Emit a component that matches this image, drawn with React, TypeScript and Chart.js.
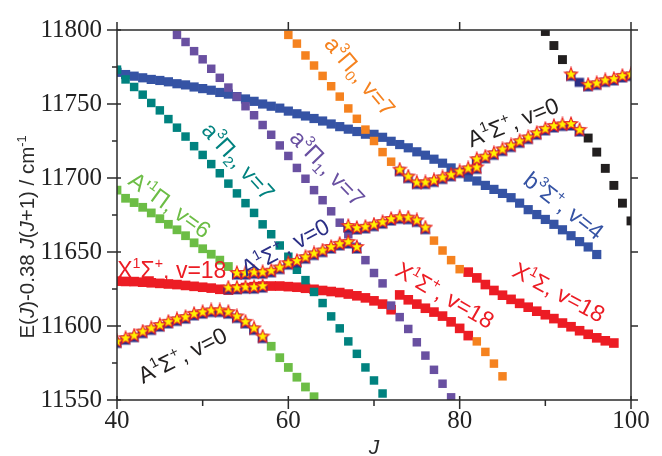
import { useEffect, useRef } from "react";
import { Chart, registerables } from "chart.js";
Chart.register(...registerables);

// ---------------- data (J, E) ----------------
const starJ = [
  40, 41, 42, 43, 44, 45, 46, 47, 48, 49, 50, 51, 52, 53, 54, 55, 56, 57,
  53, 54, 55, 56, 57,
  54, 55, 56, 57, 58, 59, 60, 61, 62, 63, 64, 65, 66, 67, 68,
  67, 68, 69, 70, 71, 72, 73, 74, 75, 76,
  73, 74, 75, 76, 77, 78, 79, 80, 81, 82, 82, 83, 84, 85, 86, 87, 88, 89, 90, 91, 92, 93, 94,
  93, 95, 96, 97, 98, 99, 100,
];
const starE = [
  11589.6, 11591.8, 11593.5, 11596.2, 11598.4, 11600.6, 11602.8, 11604.5, 11606, 11608.2, 11609.4, 11610.5, 11610.5, 11609.4, 11606.5, 11602.8, 11598.4, 11592.9,
  11625.9, 11625.9, 11626.3, 11626.3, 11627,
  11635.8, 11635.8, 11636.4, 11636.4, 11637.3, 11639.5, 11642.5, 11644, 11646.5, 11649, 11651, 11653.4, 11655.5, 11656.8, 11653.4,
  11667.6, 11666.3, 11667, 11668.5, 11670.2, 11672.3, 11673.5, 11673.2, 11671.4, 11666.5,
  11705.7, 11701, 11697, 11697, 11698.4, 11700.4, 11702.2, 11704.4, 11706.5, 11707.2, 11712.7, 11714.4, 11716.7, 11719.3, 11722, 11724.8, 11727.4, 11730.3, 11733.2, 11735.2, 11736.2, 11736.5, 11732.5,
  11770, 11763, 11764, 11766, 11767, 11769, 11770,
];
const navyExtraJ = [94];
const navyExtraE = [11766];

const blackJ = [90, 91, 92, 95, 96, 97, 98, 99, 100];
const blackE = [11799, 11789.5, 11780, 11727, 11717.5, 11706.5, 11695, 11683, 11671];

const orangeJ = [60, 61, 62, 63, 64, 65, 66, 67, 68, 69, 70, 71, 72, 77, 78, 79, 80, 82, 83, 84, 85];
const orangeE = [
  11796.7, 11790.8, 11782.8, 11776, 11769, 11762, 11755, 11747, 11740, 11732.7, 11725, 11717.5, 11711,
  11657.7, 11651, 11644.5, 11638.4,
  11589.6, 11582.5, 11574.6, 11566,
];

const purpleJ = [47, 48, 49, 50, 51, 52, 53, 54, 55, 56, 57, 58, 59, 60, 61, 62, 63, 64, 65, 66, 67, 68, 69, 70, 71, 72, 73, 74, 75, 76, 77, 78, 79];
const purpleE = [
  11796.7, 11791.9, 11785.7, 11780.2, 11773.8, 11767.7, 11761.1, 11755, 11748.5, 11742.4, 11735.8, 11729.2, 11722, 11714.9, 11706.8, 11699.5, 11691.8,
  11685, 11677.5, 11669.8, 11662, 11653.5, 11644.5, 11635.8, 11628.8, 11613.8, 11606, 11598, 11589, 11580, 11570.4, 11561, 11551.8,
];

const tealJ = [40, 41, 42, 43, 44, 45, 46, 47, 48, 49, 50, 51, 52, 53, 54, 55, 56, 57, 58, 59, 60, 61, 62, 63, 64, 65, 66, 67, 68, 69, 70, 71];
const tealE = [
  11773.2, 11766.6, 11761.5, 11756.3, 11750.7, 11745.7, 11739.8, 11734, 11728, 11721.5, 11715.6, 11709.4, 11703.2, 11696.2, 11689.6, 11683,
  11676.4, 11668.7, 11662, 11654.4, 11646.8, 11638, 11631, 11623, 11615.5, 11606.5, 11598.4, 11589.6, 11581.2, 11572, 11563.2, 11554.4,
];

const greenJ = [40, 41, 42, 43, 44, 45, 46, 47, 48, 49, 50, 51, 52, 53, 58, 59, 60, 61, 62, 63];
const greenE = [
  11691.8, 11686.3, 11683.4, 11680.2, 11676.4, 11672.5, 11668.7, 11665, 11661, 11656.2, 11652.2, 11648.5, 11644.5, 11640.2,
  11586.3, 11578.6, 11572, 11565.4, 11558.8, 11552.2,
];

const blueJ = [
  40, 41, 42, 43, 44, 45, 46, 47, 48, 49, 50, 51, 52, 53, 54, 55, 56, 57, 58, 59, 60, 61, 62, 63, 64, 65, 66, 67, 68,
  69, 70, 71, 72, 73, 74, 75, 76, 77, 78, 79, 80, 81, 82, 83, 84, 85, 86, 87, 88, 89, 90, 91, 92, 93, 94, 95, 96,
];
const blueE = [
  11771.4, 11769.9, 11768.8, 11767.7, 11766.6, 11765.9, 11765, 11763.7, 11762.9, 11761.5, 11760.4, 11759.3, 11757.8, 11756.7, 11755,
  11753.4, 11751.8, 11750, 11748.5, 11747.2, 11745.2, 11743.4, 11741.9, 11740.2, 11738.5, 11736.5, 11734.7, 11733, 11731.4,
  11729.6, 11729.5, 11727.5, 11724.8, 11722.6, 11720.4, 11717.7, 11715.4, 11712.7, 11710, 11706.8, 11703.9, 11700.6, 11698, 11695,
  11692.3, 11689.6, 11686.7, 11683, 11678.6, 11675.3, 11672, 11668.7, 11665, 11661, 11657, 11653.4, 11648.3,
];

const redJ = [
  40, 41, 42, 43, 44, 45, 46, 47, 48, 49, 50, 51, 52, 53, 54, 55, 56, 57, 58, 59, 60, 61, 62, 63, 64, 65, 66, 67, 68, 69, 70, 71, 72,
  73, 74, 75, 76, 77, 78, 79, 80, 81,
  81, 82, 83, 84, 85, 86, 87, 88, 89, 90, 91, 92, 93, 94, 95, 96, 97, 98,
];
const redE = [
  11630.3, 11630.1, 11630, 11629.6, 11629.2, 11628.8, 11628.4, 11628, 11627.4, 11626.8, 11626.2, 11625.6, 11624.8, 11624.3, 11625, 11626,
  11626.6, 11627, 11627, 11627, 11626.6, 11626.2, 11625.5, 11624.8, 11624, 11623.3, 11622.6, 11621.6, 11620.4, 11619, 11617, 11614.8, 11611,
  11621, 11617.7, 11614.8, 11612, 11609.4, 11606.7, 11602.8, 11598.4, 11593.5,
  11636.4, 11632.5, 11628, 11624, 11620.8, 11618, 11615.3, 11612.7, 11610, 11607.6, 11605, 11602, 11599.5, 11596.8, 11594.4, 11592, 11590, 11588.5,
];

const xTicks = [40, 60, 80, 100];
const yTicks = [11550, 11600, 11650, 11700, 11750, 11800];

// ---------------- styles ----------------
const C = {
  orange: "#f5821f",
  purple: "#6950a1",
  teal: "#00827f",
  green: "#6cbd45",
  blue: "#3553a4",
  red: "#ec1c24",
  black: "#221f1f",
  navy: "#2b2f86",
  axis: "#2b2b2b",
};

type Seg = { t: string; s?: "sup" | "sub"; i?: boolean };
type Note = { x: number; y: number; a: number; c: string; segs: Seg[] };

const notes: Note[] = [
  { x: 68.4, y: 11769, a: 50, c: C.orange, segs: [{ t: "a" }, { t: "3", s: "sup" }, { t: "Π" }, { t: "0", s: "sub" }, { t: ", v=7" }] },
  { x: 54.2, y: 11711.5, a: 48, c: C.teal, segs: [{ t: "a" }, { t: "3", s: "sup" }, { t: "Π" }, { t: "2", s: "sub" }, { t: ", v=7" }] },
  { x: 64.6, y: 11707, a: 46, c: C.purple, segs: [{ t: "a" }, { t: "3", s: "sup" }, { t: "Π" }, { t: "1", s: "sub" }, { t: ", v=7" }] },
  { x: 46.2, y: 11682, a: 36, c: C.green, segs: [{ t: "A'" }, { t: "1", s: "sup" }, { t: "Π" }, { t: ", v=6" }] },
  { x: 86.2, y: 11738, a: -22, c: C.black, segs: [{ t: "A" }, { t: "1", s: "sup" }, { t: "Σ" }, { t: "+", s: "sup" }, { t: ", v=0" }] },
  { x: 92.2, y: 11681.5, a: 38, c: C.blue, segs: [{ t: "b" }, { t: "3", s: "sup" }, { t: "Σ" }, { t: "+", s: "sup" }, { t: ", v=4" }] },
  { x: 59.6, y: 11653.5, a: -28, c: C.navy, segs: [{ t: "A" }, { t: "1", s: "sup" }, { t: "Σ" }, { t: "+", s: "sup" }, { t: ", v=0" }] },
  { x: 46.4, y: 11638, a: 0, c: C.red, segs: [{ t: "X" }, { t: "1", s: "sup" }, { t: "Σ" }, { t: "+", s: "sup" }, { t: ", v=18" }] },
  { x: 78.3, y: 11621, a: 30, c: C.red, segs: [{ t: "X" }, { t: "1", s: "sup" }, { t: "Σ" }, { t: "+", s: "sup" }, { t: ", v=18" }] },
  { x: 91.6, y: 11623, a: 28, c: C.red, segs: [{ t: "X" }, { t: "1", s: "sup" }, { t: "Σ" }, { t: ", v=18" }] },
  { x: 47.6, y: 11580.5, a: -27, c: C.black, segs: [{ t: "A" }, { t: "1", s: "sup" }, { t: "Σ" }, { t: "+", s: "sup" }, { t: ", v=0" }] },
];

const SANS = '"Liberation Sans"';
const SERIF = '"Liberation Serif"';

function drawRich(ctx: CanvasRenderingContext2D, segs: Seg[], x: number, y: number, angleDeg: number, color: string, size: number) {
  ctx.save();
  ctx.translate(x, y);
  ctx.rotate((angleDeg * Math.PI) / 180);
  ctx.fillStyle = color;
  ctx.textBaseline = "alphabetic";
  ctx.textAlign = "left";
  const font = (s: Seg) => {
    const sz = Math.round((s.s ? size * 0.62 : size) * 10) / 10;
    return `${s.i ? "italic " : ""}${sz}px ${SANS}`;
  };
  let total = 0;
  const widths = segs.map((s) => {
    ctx.font = font(s);
    const w = ctx.measureText(s.t).width;
    total += w;
    return w;
  });
  let cx = -total / 2;
  const base = size * 0.36;
  segs.forEach((s, k) => {
    ctx.font = font(s);
    const dy = s.s === "sup" ? -size * 0.42 : s.s === "sub" ? size * 0.2 : 0;
    ctx.fillText(s.t, cx, base + dy);
    cx += widths[k];
  });
  ctx.restore();
}

function makeStar(): HTMLCanvasElement {
  const c = document.createElement("canvas");
  c.width = 16;
  c.height = 16;
  const g = c.getContext("2d")!;
  const R = 6.9, r = 2.9, cx = 8, cy = 8;
  g.beginPath();
  for (let k = 0; k < 10; k++) {
    const rad = k % 2 === 0 ? R : r;
    const ang = -Math.PI / 2 + (k * Math.PI) / 5;
    const px = cx + rad * Math.cos(ang);
    const py = cy + rad * Math.sin(ang);
    if (k === 0) g.moveTo(px, py);
    else g.lineTo(px, py);
  }
  g.closePath();
  g.fillStyle = "#fff200";
  g.fill();
  g.lineWidth = 1.1;
  g.strokeStyle = "#ec1c24";
  g.stroke();
  return c;
}

function makeNavy(): HTMLCanvasElement {
  const c = document.createElement("canvas");
  c.width = 16;
  c.height = 16;
  const g = c.getContext("2d")!;
  g.fillStyle = C.navy;
  g.fillRect(3, 5.5, 9.5, 9);
  return c;
}

const pts = (J: number[], E: number[]) => J.map((j, k) => ({ x: j, y: E[k] }));

export default function App() {
  const ref = useRef<HTMLCanvasElement | null>(null);
  useEffect(() => {
    if (!ref.current) return;
    const star = makeStar();
    const navy = makeNavy();
    const sq = (label: string, J: number[], E: number[], color: string, r: number) => ({
      label,
      data: pts(J, E),
      pointStyle: "rect" as const,
      pointRadius: r,
      pointHoverRadius: r,
      backgroundColor: color,
      borderColor: color,
      borderWidth: 0,
      showLine: false,
    });

    const framePlugin = {
      id: "frame",
      afterDatasetsDraw(chart: any) {
        const ctx: CanvasRenderingContext2D = chart.ctx;
        const { left, right, top, bottom } = chart.chartArea;
        const xs = chart.scales.x;
        const ys = chart.scales.y;
        notes.forEach((n) => {
          drawRich(ctx, n.segs, xs.getPixelForValue(n.x), ys.getPixelForValue(n.y), n.a, n.c, 23);
        });
        ctx.save();
        ctx.strokeStyle = C.axis;
        ctx.lineWidth = 1.5;
        ctx.strokeRect(left, top, right - left, bottom - top);
        ctx.beginPath();
        for (let v = 40; v <= 100; v += 10) {
          const p = xs.getPixelForValue(v);
          const major = v % 20 === 0;
          ctx.moveTo(p, bottom - (major ? 4 : 0));
          ctx.lineTo(p, bottom + (major ? 9 : 6));
          if (major) {
            ctx.moveTo(p, top);
            ctx.lineTo(p, top - 8);
          }
        }
        for (let v = 11550; v <= 11800; v += 25) {
          const p = ys.getPixelForValue(v);
          const major = (v - 11550) % 50 === 0;
          ctx.moveTo(left + (major ? 4 : 0), p);
          ctx.lineTo(left - (major ? 10 : 5), p);
          if (major) {
            ctx.moveTo(right, p);
            ctx.lineTo(right + 7, p);
          }
        }
        ctx.stroke();
        ctx.restore();
        drawRich(
          ctx,
          [
            { t: "E(" }, { t: "J", i: true }, { t: ")-0.38 " }, { t: "J", i: true }, { t: "(" }, { t: "J", i: true },
            { t: "+1) / cm" }, { t: "-1", s: "sup" },
          ],
          27,
          (top + bottom) / 2 + 22,
          -90,
          C.axis,
          20.5
        );
        drawRich(ctx, [{ t: "J", i: true }], (left + right) / 2, 446, 0, C.axis, 21);
      },
    };

    const chart = new Chart(ref.current, {
      type: "scatter",
      data: {
        datasets: [
          { label: "A1Σ+ v=0 (stars)", data: pts(starJ, starE), pointStyle: star as any, pointRadius: 6, backgroundColor: "#fff200", borderColor: "#ec1c24", showLine: false },
          { label: "A1Σ+ v=0", data: [...pts(starJ, starE), ...pts(navyExtraJ, navyExtraE)], pointStyle: navy as any, pointRadius: 6, backgroundColor: C.navy, borderColor: C.navy, showLine: false },
          sq("a3Π0", orangeJ, orangeE, C.orange, 6),
          sq("a3Π1", purpleJ, purpleE, C.purple, 6),
          sq("a3Π2", tealJ, tealE, C.teal, 6),
          sq("A'1Π", greenJ, greenE, C.green, 6.2),
          sq("X1Σ+", redJ, redE, C.red, 6.8),
          sq("black", blackJ, blackE, C.black, 6.3),
          sq("b3Σ+", blueJ, blueE, C.blue, 6.5),
        ],
      },
      options: {
        animation: false,
        responsive: false,
        maintainAspectRatio: false,
        events: [],
        layout: { padding: { left: 0, right: 31, top: 21, bottom: 0 } },
        plugins: { legend: { display: false }, tooltip: { enabled: false } },
        scales: {
          x: {
            type: "linear",
            min: 40,
            max: 100,
            afterFit: (s: any) => { s.height = 56; },
            afterBuildTicks: (s: any) => { s.ticks = xTicks.map((v) => ({ value: v })); },
            grid: { display: false, drawTicks: false },
            border: { display: false },
            ticks: { padding: 6, color: "#222", font: { family: SERIF, size: 25 }, callback: (v: any) => String(v) },
          },
          y: {
            type: "linear",
            min: 11550,
            max: 11800,
            afterFit: (s: any) => { s.width = 117; },
            afterBuildTicks: (s: any) => { s.ticks = yTicks.map((v) => ({ value: v })); },
            grid: { display: false, drawTicks: false },
            border: { display: false },
            ticks: { padding: 15, color: "#222", font: { family: SERIF, size: 25 }, callback: (v: any) => String(v) },
          },
        },
      },
      plugins: [framePlugin],
    });

    return () => {
      chart.destroy();
    };
  }, []);

  return (
    <div style={{ position: "absolute", left: 0, top: 0, width: 662, height: 456, background: "#fff" }}>
      <canvas ref={ref} width={662} height={456} style={{ display: "block", width: 662, height: 456 }} />
    </div>
  );
}
